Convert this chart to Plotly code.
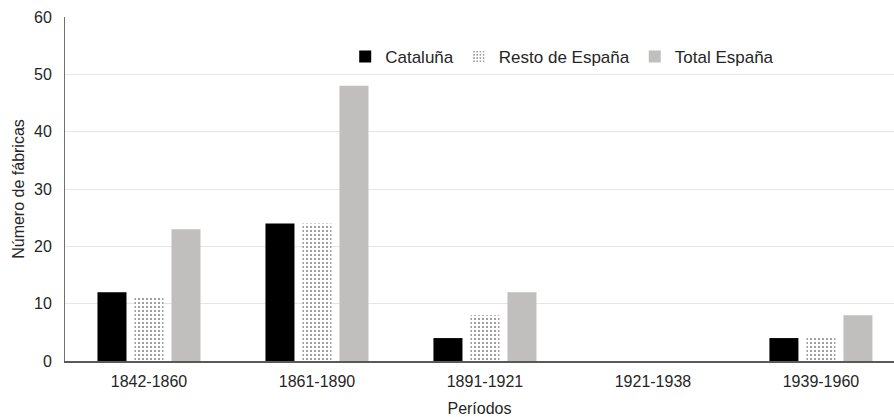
import plotly.graph_objects as go

periodos = ["1842-1860", "1861-1890", "1891-1921", "1921-1938", "1939-1960"]
cataluna = [12, 24, 4, 0, 4]
resto = [11, 24, 8, 0, 4]
total = [23, 48, 12, 0, 8]

FONT = "Liberation Sans, Arial, sans-serif"
TXT = "#262626"
CLEAR = "rgba(0,0,0,0)"

fig = go.Figure()
fig.add_trace(go.Bar(name="Cataluña", x=periodos, y=cataluna,
                     marker=dict(color="#000000", line=dict(width=0))))
fig.add_trace(go.Bar(name="Resto de España", x=periodos, y=resto,
                     marker=dict(color="#ffffff", line=dict(width=0),
                                 pattern=dict(shape=".", fgcolor="#000000", bgcolor="#ffffff",
                                              size=4, solidity=0.2))))
fig.add_trace(go.Bar(name="Total España", x=periodos, y=total,
                     marker=dict(color="#c0bfbd", line=dict(width=0))))

fig.update_layout(
    width=894, height=417,
    margin=dict(l=65, r=0, t=17, b=56),
    paper_bgcolor="white", plot_bgcolor="white",
    barmode="group", bargap=0.339, bargroupgap=0.216,
    font=dict(family=FONT, size=16, color=TXT),
    showlegend=True,
    legend=dict(orientation="h", x=0.338, xanchor="left", y=0.884, yanchor="middle",
                font=dict(family=FONT, size=17, color=TXT),
                bgcolor=CLEAR, itemwidth=30, tracegroupgap=0),
    xaxis=dict(range=[-0.5, 4.435], showgrid=False, showline=True, linecolor="#595959",
               linewidth=1.5, ticks="outside", ticklen=5, tickcolor=CLEAR,
               tickfont=dict(size=16, color=TXT),
               title=dict(text="Períodos", font=dict(size=16, color=TXT), standoff=14),
               zeroline=False),
    yaxis=dict(range=[0, 60], dtick=10, showgrid=True, gridcolor="#e6e6e6", gridwidth=1,
               showline=True, linecolor="#707070", linewidth=1, mirror=True,
               ticks="outside", ticklen=9, tickcolor=CLEAR,
               tickfont=dict(size=16, color=TXT), zeroline=False,
               title=dict(text="Número de fábricas", font=dict(size=16, color=TXT), standoff=5)),
)

fig.write_html("out.html", config={"displayModeBar": False},
               post_script="document.body.style.margin='0';")
